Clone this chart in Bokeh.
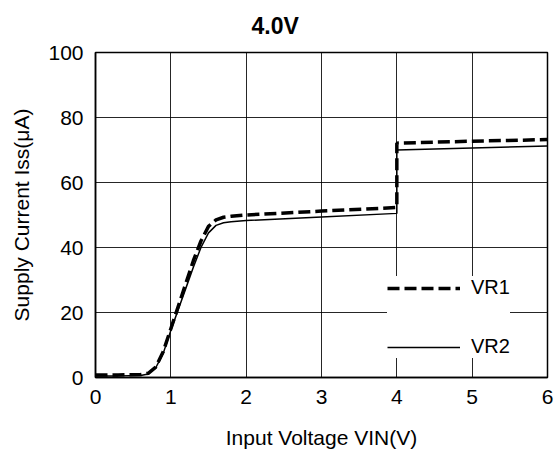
from bokeh.plotting import figure
from bokeh.models import Range1d, Legend, LegendItem, FixedTicker
from bokeh.embed import file_html
from bokeh.resources import INLINE

title_text = "4.0V"
x_label = "Input Voltage VIN(V)"
y_label = "Supply Current Iss(\u03bcA)"

x_vals = [0.0, 0.3, 0.6, 0.7, 0.8, 0.9, 1.0, 1.1, 1.2, 1.3, 1.4, 1.5, 1.6, 1.7, 1.8, 2.0, 3.0, 4.0, 4.0, 5.0, 6.0]
vr1 = [0.8, 0.8, 0.9, 1.3, 3.2, 8.0, 15.0, 22.0, 29.0, 36.0, 42.0, 46.5, 48.5, 49.3, 49.6, 50.0, 51.2, 52.3, 72.1, 72.7, 73.2]
vr2 = [0.5, 0.5, 0.6, 1.1, 3.0, 7.5, 14.5, 21.0, 27.5, 34.0, 40.0, 44.5, 46.8, 47.6, 47.9, 48.3, 49.4, 50.5, 70.0, 70.6, 71.2]
series_names = ["VR1", "VR2"]
x_ticks = [0, 1, 2, 3, 4, 5, 6]
y_ticks = [0, 20, 40, 60, 80, 100]

FONT = "Liberation Sans"

p = figure(width=555, height=452, output_backend="svg", toolbar_location=None,
           x_range=Range1d(0, 6), y_range=Range1d(0, 100),
           min_border_left=95, min_border_right=8, min_border_top=52, min_border_bottom=75)

p.title.text = title_text
p.title.align = "left"
p.title.offset = 156
p.title.text_font = FONT
p.title.text_font_size = "23px"
p.title.text_font_style = "bold"
p.title.text_color = "black"
p.title.vertical_align = "top"
p.title.standoff = 24

p.outline_line_color = "black"
p.outline_line_width = 1.5

for ax in (p.xaxis[0], p.yaxis[0]):
    ax.axis_line_color = "black"
    ax.axis_line_width = 1.5
    ax.major_tick_out = 0
    ax.major_tick_in = 0
    ax.minor_tick_out = 0
    ax.minor_tick_in = 0
    ax.major_label_text_font = FONT
    ax.major_label_text_font_size = "21px"
    ax.major_label_text_color = "black"
    ax.major_label_standoff = 12
    ax.axis_label_text_font = FONT
    ax.axis_label_text_font_size = "21px"
    ax.axis_label_text_font_style = "normal"
    ax.axis_label_text_color = "black"

p.xaxis[0].ticker = FixedTicker(ticks=x_ticks)
p.yaxis[0].ticker = FixedTicker(ticks=y_ticks)
p.yaxis[0].axis_label = y_label
p.yaxis[0].axis_label_standoff = 12
p.xaxis[0].axis_label = x_label
p.xaxis[0].axis_label_standoff = 19

p.xgrid.ticker = FixedTicker(ticks=x_ticks)
p.ygrid.ticker = FixedTicker(ticks=y_ticks)
for g in (p.xgrid[0], p.ygrid[0]):
    g.grid_line_color = "black"
    g.grid_line_width = 1
    g.grid_line_alpha = 0.85

r1 = p.line(x_vals, vr1, line_color="black", line_width=3.5, line_dash="12 5")
r2 = p.line(x_vals, vr2, line_color="black", line_width=1.5)

legend = Legend(items=[LegendItem(label=series_names[0], renderers=[r1]),
                       LegendItem(label=series_names[1], renderers=[r2])],
                location=(292, 19))
legend.background_fill_color = "white"
legend.background_fill_alpha = 1.0
legend.border_line_color = None
legend.label_text_font = FONT
legend.label_text_font_size = "20px"
legend.label_text_color = "black"
legend.glyph_width = 73
legend.glyph_height = 20
legend.label_height = 20
legend.label_standoff = 11
legend.spacing = 36
legend.padding = 11
legend.margin = 0
p.add_layout(legend)

open("out.html", "w").write(file_html(p, INLINE))
